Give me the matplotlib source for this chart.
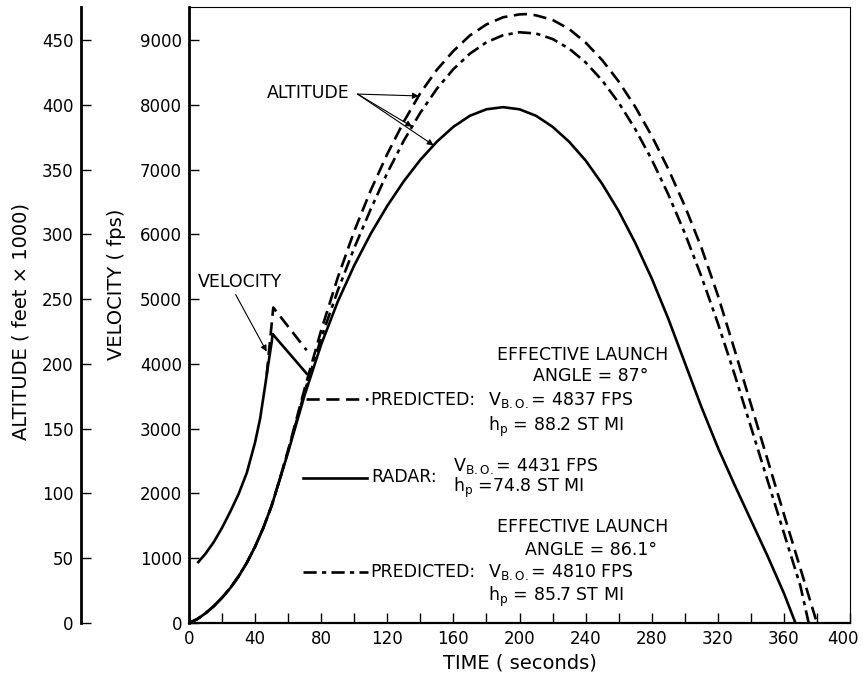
import numpy as np
import matplotlib
matplotlib.use("Agg")
import matplotlib.pyplot as plt
import matplotlib.transforms as mtransforms

plt.rcParams['font.family'] = ['DejaVu Sans']
plt.rcParams['mathtext.default'] = 'regular'
plt.rcParams['font.size'] = 12.5

# altitude curves, drawn on the velocity scale (450 kft <-> 9000 fps)
t_alt_radar = [0, 5, 10, 15, 20, 25, 30, 35, 40, 45, 50, 55, 60, 70, 80, 90, 100, 110, 120, 130,
               140, 150, 160, 170, 180, 190, 200, 210, 220, 230, 240, 250, 260, 270, 280, 290,
               300, 310, 320, 330, 340, 350, 360, 367]
alt_radar = [0, 60, 150, 260, 390, 540, 720, 930, 1180, 1470, 1810, 2220, 2640, 3520, 4300, 4960,
             5520, 6010, 6440, 6820, 7150, 7430, 7660, 7830, 7930, 7963, 7930, 7830, 7660, 7430,
             7140, 6780, 6360, 5870, 5320, 4700, 4020, 3340, 2710, 2140, 1590, 1040, 460, 0]

t_alt_pred87 = [0, 5, 10, 15, 20, 25, 30, 35, 40, 45, 50, 55, 60, 70, 80, 90, 100, 110, 120, 130,
                140, 150, 160, 170, 180, 190, 200, 205, 210, 220, 230, 240, 250, 260, 270, 280,
                290, 300, 310, 320, 330, 340, 350, 360, 370, 380]
alt_pred87 = [0, 60, 150, 260, 390, 540, 720, 930, 1180, 1470, 1810, 2230, 2670, 3620, 4520, 5330,
              6050, 6680, 7240, 7740, 8180, 8540, 8830, 9070, 9240, 9350, 9395, 9400, 9380, 9310,
              9170, 8960, 8690, 8360, 7970, 7520, 7010, 6440, 5800, 5060, 4230, 3380, 2530, 1680,
              840, 0]

t_alt_pred861 = [0, 5, 10, 15, 20, 25, 30, 35, 40, 45, 50, 55, 60, 70, 80, 90, 100, 110, 120,
                 130, 140, 150, 160, 170, 180, 190, 200, 210, 220, 230, 240, 250, 260, 270, 280,
                 290, 300, 310, 320, 330, 340, 350, 360, 370, 375]
alt_pred861 = [0, 60, 150, 260, 390, 540, 720, 930, 1180, 1470, 1810, 2225, 2655, 3570, 4400,
               5130, 5790, 6390, 6948, 7446, 7878, 8247, 8550, 8789, 8964, 9073, 9119, 9100, 9015,
               8867, 8654, 8376, 8033, 7626, 7155, 6619, 6020, 5355, 4630, 3850, 3030, 2210, 1390,
               570, 0]

# velocity curves (fps)
t_vel_radar = [5.6, 10, 15, 20, 25, 30, 35, 40, 43, 46, 48, 50, 50.6, 71.2]
vel_radar = [940, 1070, 1250, 1470, 1720, 1990, 2320, 2790, 3150, 3650, 4000, 4330, 4460, 3850]
t_vel_pred = [47, 51, 71.2]
vel_pred = [3830, 4870, 4210]

x_ticks = list(range(0, 401, 20))
x_labels = [str(v) if v % 40 == 0 else '' for v in x_ticks]
vel_ticks = list(range(0, 9001, 1000))
alt_ticks = list(range(0, 451, 50))

DASH = (0, (5, 2.5))
DASHDOT = (0, (5, 2, 1.6, 2))

fig = plt.figure(figsize=(8.63, 6.77), dpi=100)
ax = fig.add_axes([189 / 863, 54 / 677, 661 / 863, 616 / 677])

lw = 1.9
ax.plot(t_alt_radar, alt_radar, '-k', lw=lw)
ax.plot(t_alt_pred87, alt_pred87, color='k', ls=DASH, lw=lw)
ax.plot(t_alt_pred861, alt_pred861, color='k', ls=DASHDOT, lw=lw)
ax.plot(t_vel_radar, vel_radar, '-k', lw=lw)
ax.plot(t_vel_pred, vel_pred, color='k', ls=DASH, lw=lw)

ax.set_xlim(0, 400)
ax.set_ylim(0, 9509)
ax.set_xticks(x_ticks)
ax.set_xticklabels(x_labels)
ax.set_yticks(vel_ticks)
ax.tick_params(direction='in', length=7.5, width=1, labelsize=12, pad=5)
ax.spines['left'].set_linewidth(2)
ax.spines['bottom'].set_linewidth(1.6)
ax.spines['top'].set_linewidth(0.8)
ax.spines['right'].set_linewidth(0.8)
ax.set_xlabel("TIME ( seconds)", fontsize=14, labelpad=4)
ax.set_ylabel("VELOCITY ( fps)", fontsize=14)
ax.yaxis.set_label_coords(-0.0953, 0.55)

# pull the last x label inside the figure
offset = mtransforms.ScaledTranslation(-0.07, 0, fig.dpi_scale_trans)
for lbl in ax.get_xticklabels():
    if lbl.get_text() == '400':
        lbl.set_transform(lbl.get_transform() + offset)

# altitude axis further out on the left
ax2 = ax.twinx()
ax2.set_ylim(0, 9509 / 20)
ax2.spines['left'].set_position(('outward', 78))
ax2.spines['left'].set_visible(True)
ax2.spines['left'].set_linewidth(2)
for s in ['right', 'top', 'bottom']:
    ax2.spines[s].set_visible(False)
ax2.yaxis.set_ticks_position('left')
ax2.yaxis.set_label_position('left')
ax2.set_yticks(alt_ticks)
ax2.tick_params(direction='in', length=7.5, width=1, labelsize=12, pad=5)
ax2.set_ylabel("ALTITUDE ( feet \u00d7 1000)", fontsize=14)
ax2.yaxis.set_label_coords(-0.2405, 0.49)

# curve labels
ax.annotate("VELOCITY", xy=(47, 4190), xytext=(31, 5270), ha='center', va='center',
            arrowprops=dict(arrowstyle='-|>', lw=0.8, color='k', mutation_scale=9,
                            relpos=(0.42, 0.0), shrinkA=1, shrinkB=0))
ax.text(72, 8180, "ALTITUDE", ha='center', va='center')
for tt, xs, ys in [(139, t_alt_pred87, alt_pred87), (135, t_alt_pred861, alt_pred861),
                   (148, t_alt_radar, alt_radar)]:
    ax.annotate("", xy=(tt, np.interp(tt, xs, ys)), xytext=(102, 8165),
                arrowprops=dict(arrowstyle='-|>', lw=0.8, color='k', mutation_scale=9,
                                shrinkA=0, shrinkB=0))

# key samples and notes
ax.plot([71, 108.5], [3452, 3452], color='k', ls=DASH, lw=lw)
ax.plot([69, 107.5], [2242, 2242], '-k', lw=lw)
ax.plot([69, 108.5], [792, 792], color='k', ls=DASHDOT, lw=lw)

ax.text(238, 4140, "EFFECTIVE LAUNCH", ha='center', va='center')
ax.text(243, 3810, "ANGLE = 87\u00b0", ha='center', va='center')
ax.text(109.5, 3440, "PREDICTED:", ha='left', va='center')
ax.text(181, 3440, r"V$_{B.O.}$= 4837 FPS", ha='left', va='center')
ax.text(181, 3020, r"h$_{p}$ = 88.2 ST MI", ha='left', va='center')

ax.text(110.5, 2260, "RADAR:", ha='left', va='center')
ax.text(160, 2420, r"V$_{B.O.}$= 4431 FPS", ha='left', va='center')
ax.text(160, 2080, r"h$_{p}$ =74.8 ST MI", ha='left', va='center')

ax.text(238, 1480, "EFFECTIVE LAUNCH", ha='center', va='center')
ax.text(243, 1130, "ANGLE = 86.1\u00b0", ha='center', va='center')
ax.text(109.5, 790, "PREDICTED:", ha='left', va='center')
ax.text(181, 790, r"V$_{B.O.}$= 4810 FPS", ha='left', va='center')
ax.text(181, 400, r"h$_{p}$ = 85.7 ST MI", ha='left', va='center')

fig.savefig("out.png", dpi=100)
